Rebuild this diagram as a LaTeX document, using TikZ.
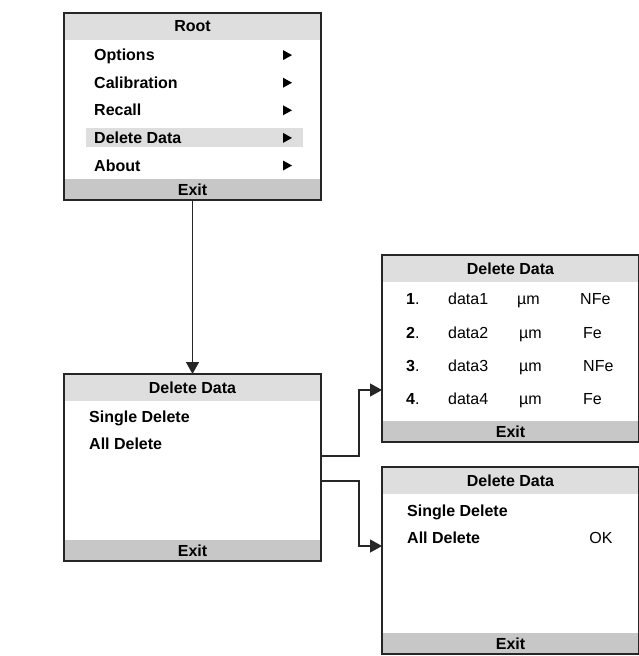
\documentclass[tikz,border=0pt]{standalone}
\usepackage{fontspec}
\setmainfont{Liberation Sans}
\usetikzlibrary{arrows.meta}

\definecolor{barlight}{gray}{0.87}
\definecolor{bardark}{gray}{0.78}
\definecolor{edge}{gray}{0.15}

\tikzset{
  screen/.style={anchor=north west, minimum width=257pt, minimum height=187pt,
    inner sep=0pt, outer sep=0pt, fill=white},
  titlebar/.style={fill=barlight, minimum width=257pt, minimum height=27pt,
    inner sep=0pt, outer sep=0pt, font=\fontsize{16}{19}\selectfont\bfseries},
  exitbar/.style={titlebar, fill=bardark, minimum height=21pt},
  frameline/.style={draw=edge, line width=1.5pt},
  item/.style={anchor=base west, inner sep=0pt, font=\fontsize{16}{19}\selectfont\bfseries},
  entry/.style={anchor=base west, inner sep=0pt},
  link/.style={draw=edge, line width=1.3pt, -{Triangle[length=12pt,width=13pt]}}
}

\begin{document}
\begin{tikzpicture}[x=1pt,y=-1pt, font=\fontsize{16}{19}\selectfont]
      \useasboundingbox (0,0) rectangle (639,656);

      % the four screens
      \foreach \name/\x/\y/\title in {root/64/13/Root, del/64/374/Delete Data, list/382/255/Delete Data, conf/382/467/Delete Data} {
        \node[screen] (\name) at (\x,\y) {};
        \node[titlebar, anchor=north] (\name-title) at (\name.north) {\title};
        \node[exitbar, anchor=south] (\name-exit) at (\name.south) {Exit};
      }

      % root menu
      \node[fill=barlight, minimum width=217pt, minimum height=19pt, inner sep=0pt, anchor=north west] (root-hl) at (86,128) {};
      \foreach \txt [count=\i] in {Options, Calibration, Recall, Delete Data, About} {
        \node[item] (root-item\i) at (94,{33+27.6*\i}) {\txt};
        \fill (283,{22.5+27.6*\i}) -- (292,{27.5+27.6*\i}) -- (283,{32.5+27.6*\i}) -- cycle;
      }

      % delete menu
      \node[item] (del-single) at (89,422) {Single Delete};
      \node[item] (del-all) at (89,449) {All Delete};

      % stored data
      \foreach \n/\d/\ux/\m/\mx/\y in {1/data1/517/NFe/580/304, 2/data2/519/Fe/583/338, 3/data3/519/NFe/583/371, 4/data4/519/Fe/583/404} {
        \node[entry] (list-no\n) at (406,\y) {\textbf{\n}.};
        \node[entry] (list-data\n) at (448,\y) {\d};
        \node[entry] (list-unit\n) at (\ux,\y) {µm};
        \node[entry] (list-mode\n) at (\mx,\y) {\m};
      }

      % confirm
      \node[item] (conf-single) at (407,516) {Single Delete};
      \node[item] (conf-all) at (407,543) {All Delete};
      \node[anchor=base, inner sep=0pt] (conf-ok) at (601,543) {OK};

      \foreach \name in {root,del,list,conf}
        \draw[frameline] (\name.north west) rectangle (\name.south east);

      % links
      \coordinate (del-out1) at (321,456);
      \coordinate (del-out2) at (321,481);
      \coordinate (list-in) at (382,390);
      \coordinate (conf-in) at (382,546);
      \draw[link] (root.south) -- (del.north);
      \draw[link] (del-out1) -- ++(38,0) |- (list-in);
      \draw[link] (del-out2) -- ++(38,0) |- (conf-in);
    \end{tikzpicture}
\end{document}
